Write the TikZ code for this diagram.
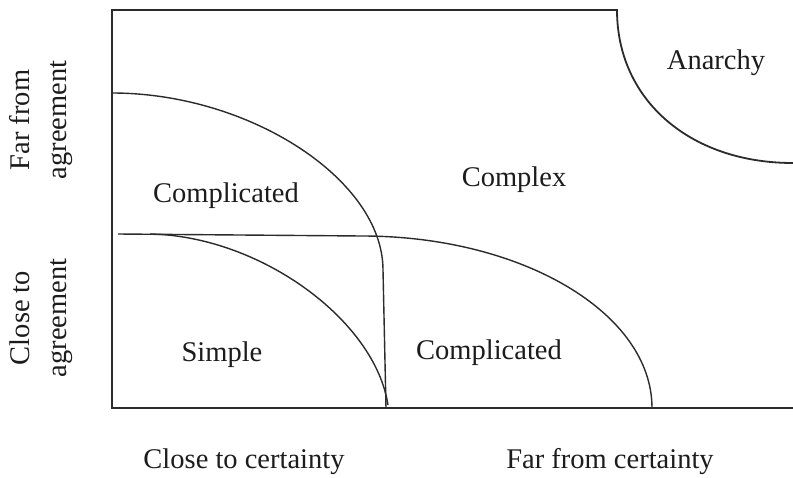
\documentclass[tikz,border=0pt]{standalone}
\usepackage{fontspec}
\setmainfont{Liberation Serif}
\definecolor{linecol}{HTML}{2B2B2B}
\definecolor{txtcol}{HTML}{1C1C1C}
\tikzset{
  lbl/.style={font=\fontsize{28.5}{37}\selectfont, text=txtcol, inner sep=0pt, anchor=base},
  axlbl/.style={font=\fontsize{28.5}{37}\selectfont, text=txtcol, inner sep=0pt, align=center, rotate=90},
  frameline/.style={line width=1.8pt, draw=linecol},
  curveline/.style={line width=1.4pt, draw=linecol}
}
\begin{document}
\begin{tikzpicture}[x=1pt,y=-1pt]
\useasboundingbox (0,0) rectangle (793,477);
% frame with anarchy corner
\draw[frameline] (793,408) -- (112,408) -- (112,10) -- (617,10)
  .. controls (617,100) and (690,163) .. (793,163);
% upper complicated boundary
\draw[curveline] (112,93) .. controls (250,93) and (383,180) .. (383,270) -- (386,408);
% horizontal divider and lower complicated boundary
\draw[curveline] (118,234) -- (362,236) .. controls (522,236) and (652,313) .. (652,408);
% simple boundary
\draw[curveline] (150,234) .. controls (260,236) and (375,320) .. (388,405);
% labels
\node[lbl] (cmpA) at (226,202.5) {Complicated};
\node[lbl] (cplx) at (514,186.5) {Complex};
\node[lbl] (anar) at (716,69.5) {Anarchy};
\node[lbl] (simp) at (222,361.5) {Simple};
\node[lbl] (cmpB) at (489,359.5) {Complicated};
\node[lbl] (clcert) at (244,468) {Close to certainty};
\node[lbl] (farcert) at (610,468) {Far from certainty};
\node[axlbl] (faragr) at (41,120) {Far from\\agreement};
\node[axlbl] (clagr) at (41,318) {Close to\\agreement};
\end{tikzpicture}
\end{document}
